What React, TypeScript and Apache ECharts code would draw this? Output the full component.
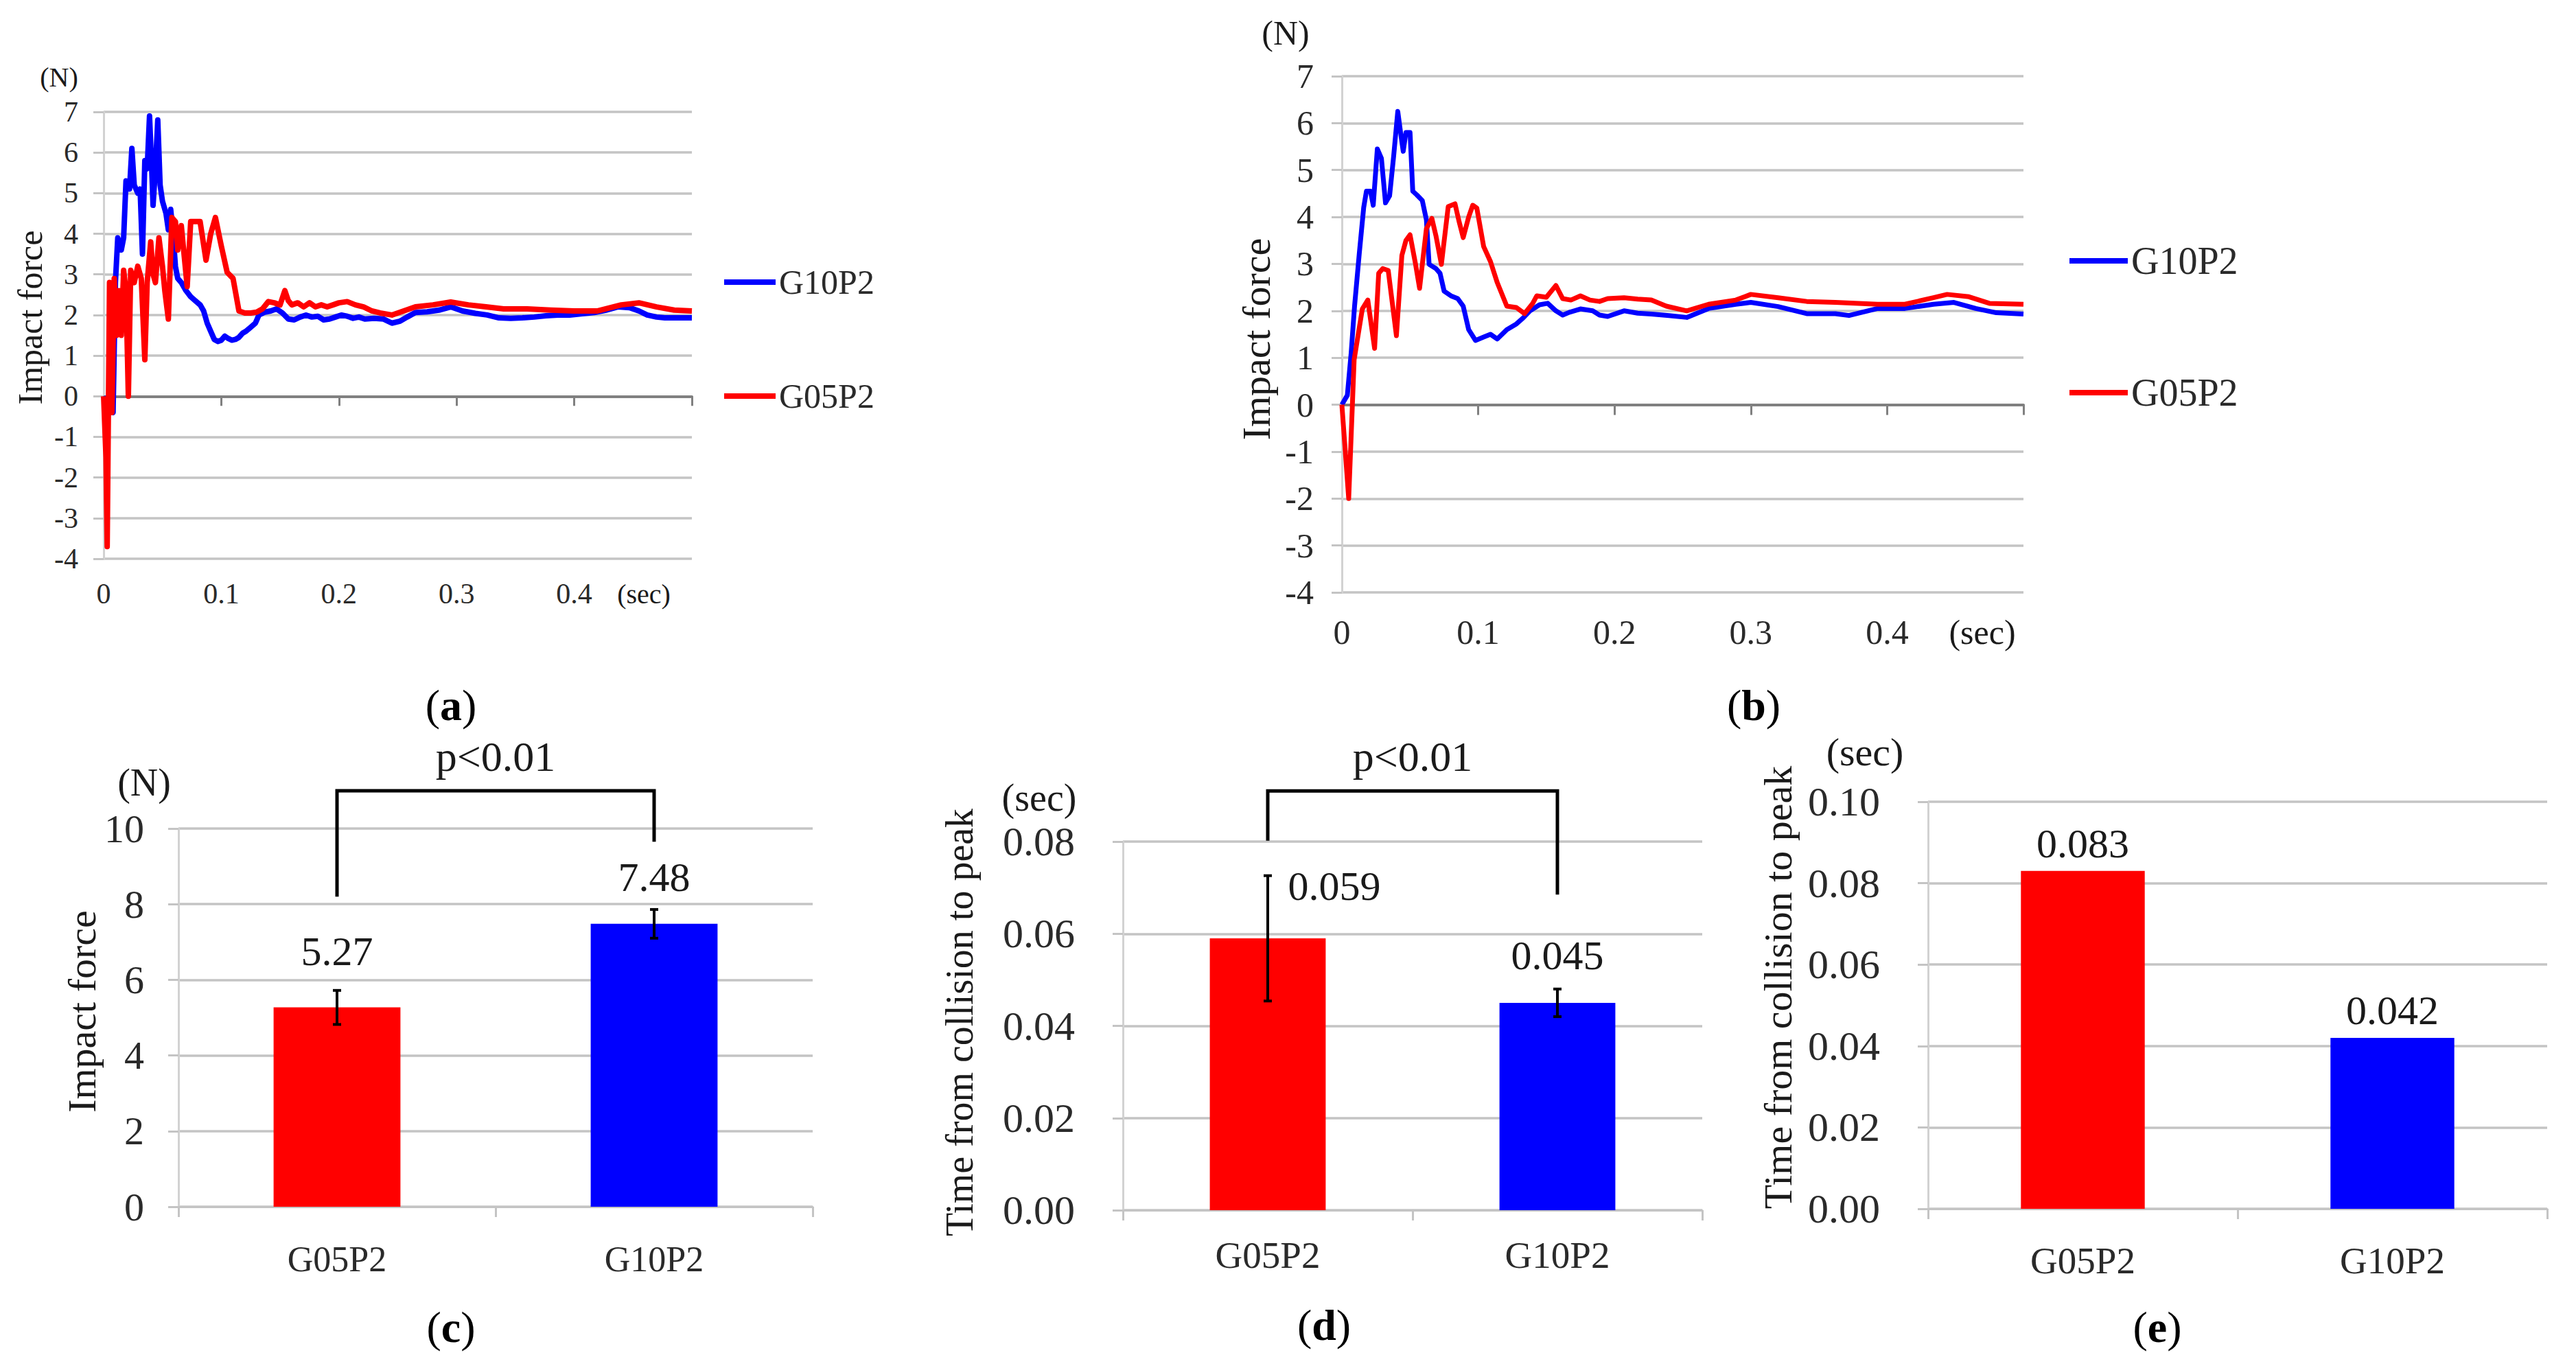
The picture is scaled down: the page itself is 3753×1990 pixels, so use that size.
import React, { useEffect, useRef } from "react";
import * as echarts from "echarts";

// ---------- data ----------
const seriesNames = ["G10P2", "G05P2"];

// Panel (a): impact force vs time (sec, N)
const G10P2_A: [number, number][] = [
  [0, 0], [0.004, -0.3], [0.008, -0.4], [0.01, 2.8], [0.012, 3.9], [0.015, 3.6], [0.017, 3.9],
  [0.019, 5.3], [0.022, 5.1], [0.024, 6.1], [0.026, 5.2], [0.029, 5.0], [0.031, 5.1], [0.033, 3.5],
  [0.035, 5.8], [0.037, 5.6], [0.039, 6.9], [0.041, 5.5], [0.042, 4.7], [0.044, 5.6], [0.046, 6.8],
  [0.048, 5.2], [0.05, 4.8], [0.053, 4.5], [0.055, 4.1], [0.057, 4.6], [0.059, 4.0], [0.061, 3.2],
  [0.063, 2.9], [0.066, 2.8], [0.07, 2.6], [0.074, 2.45], [0.078, 2.35], [0.082, 2.25], [0.085, 2.1],
  [0.088, 1.8], [0.091, 1.6], [0.094, 1.4], [0.097, 1.35], [0.1, 1.38], [0.103, 1.48], [0.106, 1.42],
  [0.109, 1.38], [0.112, 1.4], [0.115, 1.45], [0.118, 1.55], [0.121, 1.6], [0.125, 1.7], [0.129, 1.8],
  [0.132, 2.0], [0.137, 2.07], [0.142, 2.1], [0.147, 2.15], [0.152, 2.05], [0.157, 1.9], [0.162, 1.88],
  [0.167, 1.95], [0.172, 2.0], [0.177, 1.95], [0.182, 1.97], [0.187, 1.88], [0.192, 1.9], [0.197, 1.95],
  [0.202, 2.0], [0.207, 1.97], [0.212, 1.92], [0.217, 1.95], [0.222, 1.9], [0.23, 1.92], [0.238, 1.9],
  [0.245, 1.8], [0.252, 1.85], [0.258, 1.95], [0.265, 2.06], [0.275, 2.08], [0.285, 2.12], [0.295, 2.2],
  [0.305, 2.1], [0.316, 2.04], [0.326, 2.0], [0.336, 1.93], [0.346, 1.92], [0.356, 1.93], [0.366, 1.95],
  [0.376, 1.98], [0.386, 2.0], [0.396, 2.0], [0.407, 2.03], [0.417, 2.06], [0.427, 2.12], [0.437, 2.2],
  [0.447, 2.18], [0.455, 2.1], [0.462, 2.0], [0.47, 1.95], [0.477, 1.93], [0.488, 1.93], [0.5, 1.93],
];
const G05P2_A: [number, number][] = [
  [0, 0], [0.002, -1.5], [0.003, -3.7], [0.005, 2.8], [0.007, -0.4], [0.009, 2.9], [0.011, 1.5],
  [0.013, 2.6], [0.015, 1.5], [0.017, 3.1], [0.019, 2.6], [0.021, 0.0], [0.023, 3.1], [0.026, 2.8],
  [0.029, 3.2], [0.032, 2.9], [0.035, 0.9], [0.037, 2.8], [0.04, 3.8], [0.042, 3.0], [0.044, 2.8],
  [0.047, 3.9], [0.05, 3.2], [0.052, 2.6], [0.055, 1.9], [0.058, 4.4], [0.061, 4.3], [0.063, 3.6],
  [0.066, 4.2], [0.069, 3.3], [0.071, 2.7], [0.074, 4.3], [0.078, 4.3], [0.082, 4.3], [0.087, 3.35],
  [0.091, 4.0], [0.095, 4.4], [0.1, 3.7], [0.105, 3.05], [0.11, 2.9], [0.115, 2.1], [0.12, 2.05],
  [0.125, 2.05], [0.13, 2.07], [0.135, 2.15], [0.14, 2.33], [0.145, 2.3], [0.15, 2.25], [0.154, 2.6],
  [0.157, 2.35], [0.16, 2.25], [0.165, 2.3], [0.17, 2.2], [0.175, 2.3], [0.18, 2.2], [0.185, 2.25],
  [0.19, 2.2], [0.195, 2.25], [0.2, 2.3], [0.207, 2.33], [0.214, 2.25], [0.221, 2.2], [0.228, 2.1],
  [0.235, 2.05], [0.245, 2.0], [0.255, 2.1], [0.265, 2.2], [0.28, 2.25], [0.295, 2.32], [0.31, 2.25],
  [0.325, 2.2], [0.34, 2.15], [0.36, 2.15], [0.38, 2.12], [0.4, 2.1], [0.42, 2.1], [0.44, 2.25],
  [0.455, 2.3], [0.47, 2.2], [0.485, 2.12], [0.5, 2.1],
];

// Panel (b)
const G10P2_B: [number, number][] = [
  [0, 0], [0.004, 0.2], [0.0068, 1.1], [0.0093, 2.1], [0.0127, 3.2], [0.016, 4.2], [0.018, 4.55],
  [0.021, 4.55], [0.023, 4.25], [0.026, 5.45], [0.029, 5.25], [0.032, 4.3], [0.035, 4.45], [0.038, 5.3],
  [0.041, 6.25], [0.044, 5.6], [0.045, 5.4], [0.047, 5.8], [0.05, 5.8], [0.052, 4.55], [0.055, 4.47],
  [0.059, 4.35], [0.062, 3.94], [0.064, 2.99], [0.069, 2.9], [0.072, 2.8], [0.075, 2.42], [0.08, 2.32],
  [0.085, 2.26], [0.089, 2.1], [0.093, 1.6], [0.098, 1.37], [0.104, 1.44], [0.109, 1.5], [0.114, 1.4],
  [0.121, 1.6], [0.128, 1.72], [0.133, 1.85], [0.138, 2.0], [0.145, 2.13], [0.151, 2.16], [0.157, 2.0],
  [0.162, 1.91], [0.167, 1.97], [0.175, 2.04], [0.184, 2.0], [0.189, 1.91], [0.195, 1.88], [0.207, 2.0],
  [0.217, 1.95], [0.227, 1.93], [0.24, 1.9], [0.253, 1.86], [0.269, 2.05], [0.289, 2.14], [0.3, 2.18],
  [0.32, 2.09], [0.341, 1.94], [0.362, 1.94], [0.372, 1.9], [0.393, 2.05], [0.413, 2.05], [0.434, 2.14],
  [0.449, 2.18], [0.465, 2.05], [0.48, 1.96], [0.5, 1.93],
];
const G05P2_B: [number, number][] = [
  [0, 0], [0.005, -2.0], [0.009, 0.96], [0.012, 1.5], [0.015, 2.04], [0.019, 2.23], [0.024, 1.2],
  [0.027, 2.8], [0.03, 2.9], [0.034, 2.86], [0.04, 1.47], [0.044, 3.18], [0.047, 3.5], [0.05, 3.62],
  [0.054, 3.0], [0.057, 2.48], [0.062, 3.75], [0.066, 3.97], [0.069, 3.6], [0.073, 2.99], [0.078, 4.22],
  [0.083, 4.28], [0.086, 3.9], [0.089, 3.56], [0.093, 4.0], [0.096, 4.25], [0.099, 4.19], [0.104, 3.37],
  [0.109, 3.05], [0.114, 2.6], [0.121, 2.1], [0.128, 2.07], [0.134, 1.94], [0.14, 2.16], [0.143, 2.32],
  [0.15, 2.29], [0.157, 2.54], [0.162, 2.26], [0.168, 2.23], [0.175, 2.32], [0.182, 2.23], [0.189, 2.2],
  [0.195, 2.26], [0.207, 2.28], [0.217, 2.25], [0.227, 2.23], [0.238, 2.1], [0.253, 2.0], [0.269, 2.14],
  [0.289, 2.23], [0.3, 2.35], [0.32, 2.28], [0.341, 2.2], [0.362, 2.18], [0.393, 2.14], [0.413, 2.14],
  [0.434, 2.28], [0.444, 2.35], [0.46, 2.3], [0.475, 2.16], [0.5, 2.14],
];

// Bar panels
const barCategories = ["G05P2", "G10P2"];
const forceMeans = [5.27, 7.48];
const forceErrors = [0.45, 0.38];
const peakTimeMeans = [0.059, 0.045];
const peakTimeErrors = [0.0136, 0.003];
const peakTimeSingle = [0.083, 0.042];
const significance = "p<0.01";
// bracket heights in data units: [left leg end, top, right leg end, label level]
const bracketC = [8.2, 11.0, 9.65, 11.9];
const bracketD = [0.0802, 0.091, 0.0685, 0.0985];

// ---------- styles ----------
const FONT = "'Liberation Serif', 'Times New Roman', serif";
const RED = "#ff0000";
const BLUE = "#0000ff";
const barColors = [RED, BLUE];
const GRID = "#c4c4c4";
const TXT = "#2a2a2a";

const txt = (fontSize: number) => ({ fontSize, fontFamily: FONT, color: TXT });

function lineSeries(name: string, data: [number, number][], color: string, xi: number, yi: number, width: number) {
  return {
    type: "line", name, data, xAxisIndex: xi, yAxisIndex: yi,
    showSymbol: false, symbol: "none", smooth: false,
    lineStyle: { color, width, join: "round" }, itemStyle: { color },
  };
}

function lineXLabelAxis(gridIndex: number, margin: number, fontSize: number) {
  return {
    type: "value", gridIndex, min: 0, max: 0.5, interval: 0.1, position: "bottom",
    axisLine: { show: false, onZero: false }, axisTick: { show: false }, splitLine: { show: false },
    axisLabel: { margin, ...txt(fontSize), formatter: (v: number) => (v >= 0.45 ? "" : String(Math.round(v * 10) / 10)) },
  };
}
function lineXZeroAxis(gridIndex: number, tickLen: number) {
  return {
    type: "value", gridIndex, min: 0, max: 0.5, interval: 0.1, position: "bottom",
    axisLine: { show: true, onZero: true, lineStyle: { color: "#808080", width: 4 } },
    axisTick: { show: true, length: tickLen, lineStyle: { color: "#808080", width: 3 } },
    axisLabel: { show: false }, splitLine: { show: false },
  };
}
function valueYAxis(gridIndex: number, min: number, max: number, interval: number, margin: number, fontSize: number,
  name: string, nameGap: number, nameSize: number, shift: number, decimals: number) {
  return {
    type: "value", gridIndex, min, max, interval,
    axisLine: { show: true, onZero: false, lineStyle: { color: "#d2d2d2", width: 3 } },
    axisTick: { show: true, length: 15, lineStyle: { color: GRID, width: 3 } },
    splitLine: { show: true, lineStyle: { color: GRID, width: 3.5 } },
    axisLabel: { margin, ...txt(fontSize), formatter: (v: number) => v.toFixed(decimals) },
    name, nameLocation: "middle", nameRotate: 90, nameGap,
    nameTextStyle: { ...txt(nameSize), color: "#1a1a1a", padding: shift > 0 ? [0, 0, 0, shift] : shift < 0 ? [0, -shift, 0, 0] : 0 },
  };
}
function catXAxis(gridIndex: number, margin: number, fontSize: number) {
  return {
    type: "category", gridIndex, data: barCategories,
    axisLine: { show: true, lineStyle: { color: GRID, width: 3 } },
    axisTick: { show: true, length: 15, lineStyle: { color: GRID, width: 3 } },
    axisLabel: { margin, ...txt(fontSize) },
    splitLine: { show: false },
  };
}
function barSeries(xi: number, yi: number, values: number[], labelFmt: (v: number) => string, labelPos: any[]) {
  return {
    type: "bar", name: "bars" + xi, xAxisIndex: xi, yAxisIndex: yi, barWidth: "40%",
    data: values.map((v, i) => ({ value: v, itemStyle: { color: barColors[i] }, label: labelPos[i] })),
    label: { show: true, position: "top", ...txt(60), color: "#1a1a1a", formatter: (p: any) => labelFmt(p.value) },
  };
}
function errorSeries(xi: number, yi: number, means: number[], errs: number[]) {
  return {
    type: "custom", xAxisIndex: xi, yAxisIndex: yi, z: 5, silent: true, clip: false,
    data: means.map((m, i) => [i, m - errs[i], m + errs[i]]),
    encode: { x: 0, y: [1, 2] },
    renderItem: (_p: any, api: any) => {
      const lo = api.coord([api.value(0), api.value(1)]);
      const hi = api.coord([api.value(0), api.value(2)]);
      const w = 6;
      const st = { stroke: "#000", lineWidth: 4 };
      return {
        type: "group", children: [
          { type: "line", shape: { x1: lo[0], y1: lo[1], x2: hi[0], y2: hi[1] }, style: st },
          { type: "line", shape: { x1: lo[0] - w, y1: lo[1], x2: lo[0] + w, y2: lo[1] }, style: st },
          { type: "line", shape: { x1: hi[0] - w, y1: hi[1], x2: hi[0] + w, y2: hi[1] }, style: st },
        ],
      };
    },
  };
}
function bracketSeries(xi: number, yi: number, spec: number[]) {
  return {
    type: "custom", xAxisIndex: xi, yAxisIndex: yi, z: 6, silent: true, clip: false,
    data: [[0, spec[0], spec[1], 1, spec[2], spec[3]]],
    encode: { x: 0, y: 1 },
    renderItem: (_p: any, api: any) => {
      const a = api.coord([api.value(0), api.value(1)]);
      const b = api.coord([api.value(0), api.value(2)]);
      const c = api.coord([api.value(3), api.value(2)]);
      const d = api.coord([api.value(3), api.value(4)]);
      const t = api.coord([api.value(0), api.value(5)]);
      return {
        type: "group", children: [
          { type: "polyline", shape: { points: [a, b, c, d] }, style: { stroke: "#000", lineWidth: 5, fill: null } },
          {
            type: "text",
            style: {
              text: significance, x: (b[0] + c[0]) / 2, y: t[1],
              align: "center", verticalAlign: "middle", textAlign: "center", textVerticalAlign: "middle",
              font: `62px ${FONT}`, fill: "#1a1a1a",
            },
          },
        ],
      };
    },
  };
}

function label(text: string, x: number, y: number, size: number) {
  return {
    type: "text", x, y,
    style: {
      text, font: `${size}px ${FONT}`, fill: "#1a1a1a",
      align: "center", verticalAlign: "middle", textAlign: "center", textVerticalAlign: "middle",
    },
  };
}
function caption(letter: string, x: number, y: number) {
  return {
    type: "text", x, y,
    style: {
      text: `{p|(}{b|${letter}}{p|)}`,
      align: "center", verticalAlign: "middle", textAlign: "center", textVerticalAlign: "middle",
      rich: {
        p: { fontSize: 64, fontFamily: FONT, fill: "#000", color: "#000" },
        b: { fontSize: 64, fontFamily: FONT, fontWeight: "bold", fill: "#000", color: "#000" },
      },
    },
  };
}

const option: any = {
  animation: false,
  backgroundColor: "#ffffff",
  grid: [
    { left: 151, top: 163, width: 857, height: 651 },
    { left: 1955, top: 111, width: 993, height: 752 },
    { left: 260, top: 1207, width: 924, height: 551 },
    { left: 1636, top: 1226, width: 844, height: 537 },
    { left: 2809, top: 1168, width: 902, height: 593 },
  ],
  xAxis: [
    lineXLabelAxis(0, 30, 42),
    lineXZeroAxis(0, 14),
    lineXLabelAxis(1, 33, 50),
    lineXZeroAxis(1, 15),
    catXAxis(2, 50, 52),
    catXAxis(3, 38, 55),
    catXAxis(4, 48, 55),
  ],
  yAxis: [
    valueYAxis(0, -4, 7, 1, 37, 42, "Impact force", 82, 50, 52, 0),
    valueYAxis(1, -4, 7, 1, 41, 50, "Impact force", 96, 58, -14, 0),
    valueYAxis(2, 0, 10, 2, 50, 58, "Impact force", 87, 58, 18, 0),
    valueYAxis(3, 0, 0.08, 0.02, 70, 60, "Time from collision to peak", 210, 56, 10, 2),
    valueYAxis(4, 0, 0.1, 0.02, 70, 60, "Time from collision to peak", 190, 58, 52, 2),
  ],
  legend: [
    {
      data: seriesNames, left: 1050, top: 381, orient: "vertical", itemGap: 116, itemWidth: 75, itemHeight: 8,
      icon: "rect", selectedMode: false, textStyle: txt(50),
    },
    {
      data: seriesNames, left: 3010, top: 347, orient: "vertical", itemGap: 136, itemWidth: 85, itemHeight: 8,
      icon: "rect", selectedMode: false, textStyle: txt(56),
    },
  ],
  series: [
    lineSeries("G10P2", G10P2_A, BLUE, 0, 0, 8),
    lineSeries("G05P2", G05P2_A, RED, 0, 0, 8),
    lineSeries("G10P2", G10P2_B, BLUE, 2, 1, 7),
    lineSeries("G05P2", G05P2_B, RED, 2, 1, 7),
    barSeries(4, 2, forceMeans, (v) => v.toFixed(2), [{ distance: 52 }, { distance: 38 }]),
    errorSeries(4, 2, forceMeans, forceErrors),
    bracketSeries(4, 2, bracketC),
    barSeries(5, 3, peakTimeMeans, (v) => v.toFixed(3), [{ distance: 0, offset: [97, -46] }, { distance: 39 }]),
    errorSeries(5, 3, peakTimeMeans, peakTimeErrors),
    bracketSeries(5, 3, bracketD),
    barSeries(6, 4, peakTimeSingle, (v) => v.toFixed(3), [{ distance: 10 }, { distance: 10 }]),
  ],
  graphic: [
    label("(N)", 86, 112, 40),
    label("(sec)", 938, 865, 40),
    label("(N)", 1873, 48, 50),
    label("(sec)", 2888, 921, 50),
    label("(N)", 210, 1140, 56),
    label("(sec)", 1514, 1162, 56),
    label("(sec)", 2717, 1095, 58),
    caption("a", 657, 1027),
    caption("b", 2555, 1027),
    caption("c", 657, 1933),
    caption("d", 1929, 1930),
    caption("e", 3143, 1933),
  ],
};

export default function App() {
  const ref = useRef<HTMLDivElement>(null);
  useEffect(() => {
    if (!ref.current) return;
    const chart = echarts.init(ref.current, undefined, { renderer: "svg" });
    chart.setOption(option);
    return () => chart.dispose();
  }, []);
  return (
    <div
      ref={ref}
      style={{ position: "fixed", left: 0, top: 0, width: 3753, height: 1990, background: "#fff" }}
    />
  );
}
